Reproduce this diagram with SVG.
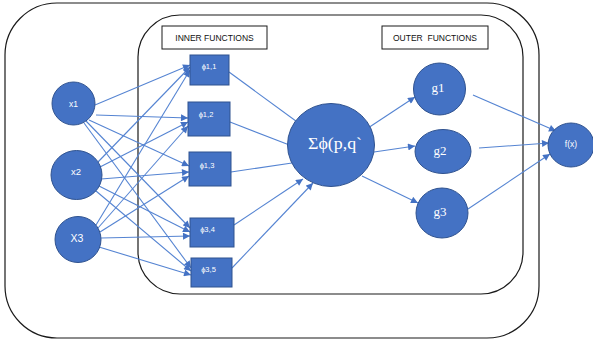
<svg xmlns="http://www.w3.org/2000/svg" width="593" height="343" viewBox="0 0 593 343">
  <style>
    .frame { fill: none; stroke: #1a1a1a; stroke-width: 1.2; }
    .tag { fill: #ffffff; stroke: #1a1a1a; stroke-width: 1; }
    .tagtext { font-family: "Liberation Sans", Arial, sans-serif; font-size: 8.5px; fill: #111111; }
    .node { fill: #4472C4; stroke: #2F528F; stroke-width: 1; }
    .lbl { font-family: "Liberation Sans", Arial, sans-serif; fill: #ffffff; text-anchor: middle; dominant-baseline: central; }
    .serif { font-family: "Liberation Serif", "DejaVu Serif", serif; fill: #ffffff; text-anchor: middle; dominant-baseline: central; }
    .edge { stroke: #5584D2; stroke-width: 1.1; fill: none; marker-end: url(#arrow); }
    .plain { stroke: #5584D2; stroke-width: 1.1; fill: none; }
  </style>
  <defs>
    <marker id="arrow" viewBox="0 0 10 10" refX="10" refY="5" markerWidth="8" markerHeight="7" markerUnits="userSpaceOnUse" orient="auto">
      <path d="M0,0 L10,5 L0,10 z" fill="#4472C4"/>
    </marker>
  </defs>

  <!-- enclosing frames -->
  <rect class="frame" x="5" y="3" width="534" height="335" rx="52" ry="52"/>
  <rect class="frame" x="138" y="15" width="385" height="279" rx="42" ry="42"/>

  <!-- section tags -->
  <g id="tag-inner">
    <rect class="tag" x="162" y="26" width="105" height="23"/>
    <text class="tagtext" x="214.5" y="40.5" text-anchor="middle">INNER FUNCTIONS</text>
  </g>
  <g id="tag-outer">
    <rect class="tag" x="382" y="26" width="106" height="23"/>
    <text class="tagtext" x="435" y="40.5" text-anchor="middle" xml:space="preserve">OUTER  FUNCTIONS</text>
  </g>

  <!-- connectors -->
  <g id="connectors">
    <!-- inputs to inner functions -->
    <line class="edge" x1="95" y1="105" x2="190" y2="65"/>
    <line class="edge" x1="96" y1="115" x2="188" y2="118"/>
    <line class="edge" x1="89" y1="120" x2="189" y2="166"/>
    <line class="edge" x1="86" y1="121" x2="190" y2="228"/>
    <line class="edge" x1="84" y1="123" x2="191" y2="268"/>

    <line class="edge" x1="98" y1="162" x2="190" y2="67"/>
    <line class="edge" x1="100" y1="167" x2="188" y2="122"/>
    <line class="edge" x1="101" y1="179" x2="189" y2="172"/>
    <line class="edge" x1="99" y1="186" x2="190" y2="232"/>
    <line class="edge" x1="96" y1="191" x2="191" y2="271"/>

    <line class="edge" x1="96" y1="225" x2="190" y2="70"/>
    <line class="edge" x1="98" y1="228" x2="188" y2="126"/>
    <line class="edge" x1="100" y1="232" x2="189" y2="176"/>
    <line class="edge" x1="101" y1="238" x2="190" y2="236"/>
    <line class="edge" x1="99" y1="247" x2="191" y2="275"/>

    <!-- inner functions to sum -->
    <line class="plain" x1="229" y1="72" x2="300" y2="124"/>
    <line class="plain" x1="230" y1="122" x2="292" y2="146"/>
    <line class="plain" x1="231" y1="172" x2="292" y2="163"/>
    <line class="edge" x1="234" y1="225" x2="303" y2="179"/>
    <line class="edge" x1="232" y1="268" x2="313" y2="183"/>

    <!-- sum to outer functions -->
    <line class="edge" x1="368" y1="128" x2="415" y2="97"/>
    <line class="edge" x1="374" y1="152" x2="415" y2="146"/>
    <line class="edge" x1="362" y1="176" x2="418" y2="203"/>

    <!-- outer functions to result -->
    <line class="edge" x1="473" y1="95" x2="556" y2="131"/>
    <line class="edge" x1="479" y1="148" x2="549" y2="143"/>
    <line class="edge" x1="468" y1="209" x2="550" y2="154"/>
  </g>

  <!-- inputs -->
  <g id="x1">
    <circle class="node" cx="73.5" cy="103.5" r="21.5"/>
    <text class="lbl" x="73.5" y="103.5" font-size="8.5">x1</text>
  </g>
  <g id="x2">
    <ellipse class="node" cx="76.5" cy="175" rx="25.5" ry="24.5"/>
    <text class="lbl" x="76" y="171" font-size="9.5">x2</text>
  </g>
  <g id="x3">
    <ellipse class="node" cx="78" cy="239.5" rx="23" ry="23"/>
    <text class="lbl" x="77" y="237.5" font-size="10.5">X3</text>
  </g>

  <!-- inner functions -->
  <g id="phi11">
    <rect class="node" x="190" y="55" width="39" height="30"/>
    <text class="lbl" x="209" y="66" font-size="7.5">ϕ1,1</text>
  </g>
  <g id="phi12">
    <rect class="node" x="188" y="102" width="42" height="34"/>
    <text class="lbl" x="206" y="114" font-size="7.5">ϕ1,2</text>
  </g>
  <g id="phi13">
    <rect class="node" x="189" y="152" width="42" height="34"/>
    <text class="lbl" x="207" y="165" font-size="7.5">ϕ1,3</text>
  </g>
  <g id="phi34">
    <rect class="node" x="190" y="218" width="44" height="29"/>
    <text class="lbl" x="207.5" y="229" font-size="7.5">ϕ3,4</text>
  </g>
  <g id="phi35">
    <rect class="node" x="191" y="258" width="41" height="29"/>
    <text class="lbl" x="208.5" y="269" font-size="7.5">ϕ3,5</text>
  </g>

  <!-- sum node -->
  <g id="sum">
    <ellipse class="node" cx="331" cy="145" rx="43.5" ry="41.5"/>
    <text class="serif" x="335" y="143" font-size="16" textLength="54" lengthAdjust="spacingAndGlyphs">Σϕ(p,q`</text>
  </g>

  <!-- outer functions -->
  <g id="g1">
    <circle class="node" cx="439.5" cy="89" r="26"/>
    <text class="serif" x="438" y="87" font-size="13">g1</text>
  </g>
  <g id="g2">
    <ellipse class="node" cx="443" cy="151.5" rx="28" ry="22"/>
    <text class="serif" x="440" y="150" font-size="13">g2</text>
  </g>
  <g id="g3">
    <ellipse class="node" cx="442" cy="213" rx="26" ry="25"/>
    <text class="serif" x="440" y="211" font-size="13">g3</text>
  </g>

  <!-- result -->
  <g id="fx">
    <ellipse class="node" cx="571" cy="145" rx="23" ry="22"/>
    <text class="lbl" x="571" y="144" font-size="8.5">f(x)</text>
  </g>
</svg>
